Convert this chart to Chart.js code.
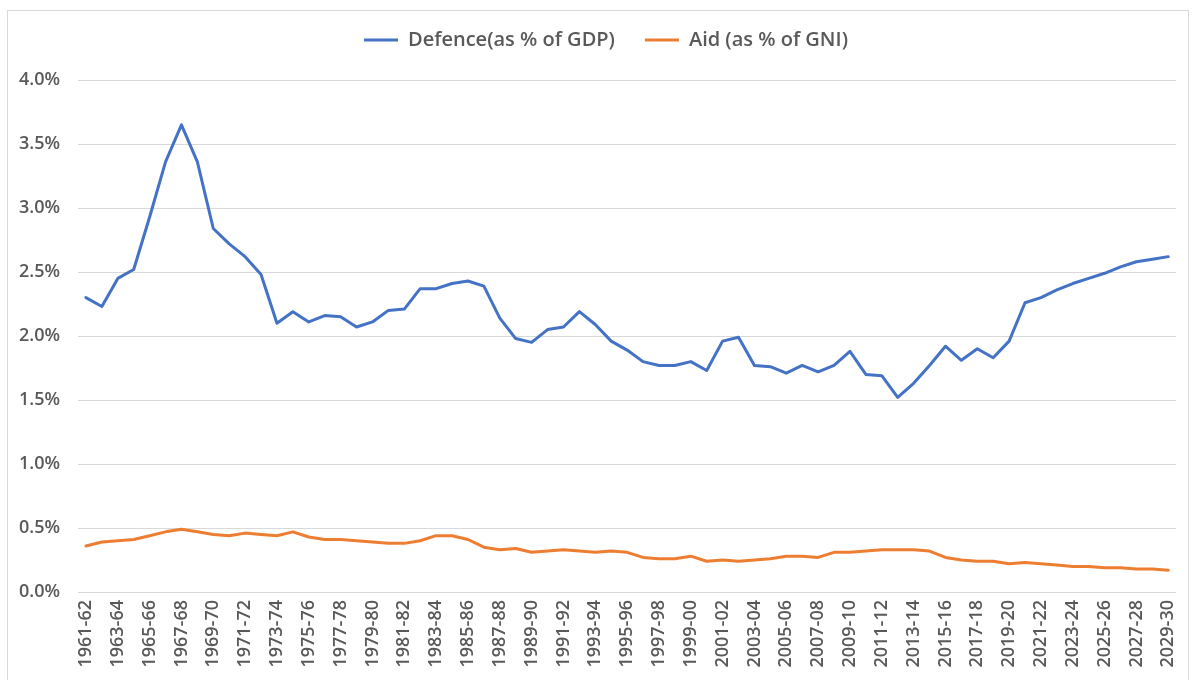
<!DOCTYPE html>
<html lang="en">
<head>
<meta charset="UTF-8">
<title>Defence and Aid spending</title>
<style>
  html, body { margin: 0; padding: 0; background: #fff; }
  .frame { position: relative; width: 1198px; height: 680px; overflow: hidden; }
  .frame .edge { position: absolute; left: 7px; top: 10px; width: 1182px; height: 700px; border: 1px solid #d9d9d9; box-sizing: border-box; }
  canvas { position: absolute; left: 0; top: 0; }
</style>
</head>
<body>
<div class="frame">
  <div class="edge"></div>
  <canvas id="chart" width="1198" height="680"></canvas>
</div>
<script src="https://cdn.jsdelivr.net/npm/chart.js@4.4.9/dist/chart.umd.min.js"></script>
<script>
// financial years on the category axis
const years = [
  '1961-62', '1962-63', '1963-64', '1964-65', '1965-66', '1966-67', '1967-68', '1968-69', '1969-70', '1970-71',
  '1971-72', '1972-73', '1973-74', '1974-75', '1975-76', '1976-77', '1977-78', '1978-79', '1979-80', '1980-81',
  '1981-82', '1982-83', '1983-84', '1984-85', '1985-86', '1986-87', '1987-88', '1988-89', '1989-90', '1990-91',
  '1991-92', '1992-93', '1993-94', '1994-95', '1995-96', '1996-97', '1997-98', '1998-99', '1999-00', '2000-01',
  '2001-02', '2002-03', '2003-04', '2004-05', '2005-06', '2006-07', '2007-08', '2008-09', '2009-10', '2010-11',
  '2011-12', '2012-13', '2013-14', '2014-15', '2015-16', '2016-17', '2017-18', '2018-19', '2019-20', '2020-21',
  '2021-22', '2022-23', '2023-24', '2024-25', '2025-26', '2026-27', '2027-28', '2028-29', '2029-30'
];

// defence spending, % of GDP
const defence = [
  2.30, 2.23, 2.45, 2.52, 2.93, 3.36, 3.65, 3.36, 2.84, 2.72,
  2.62, 2.48, 2.10, 2.19, 2.11, 2.16, 2.15, 2.07, 2.11, 2.20,
  2.21, 2.37, 2.37, 2.41, 2.43, 2.39, 2.14, 1.98, 1.95, 2.05,
  2.07, 2.19, 2.09, 1.96, 1.89, 1.80, 1.77, 1.77, 1.80, 1.73,
  1.96, 1.99, 1.77, 1.76, 1.71, 1.77, 1.72, 1.77, 1.88, 1.70,
  1.69, 1.52, 1.63, 1.77, 1.92, 1.81, 1.90, 1.83, 1.96, 2.26,
  2.30, 2.36, 2.41, 2.45, 2.49, 2.54, 2.58, 2.60, 2.62
];

// overseas aid, % of GNI
const aid = [
  0.36, 0.39, 0.40, 0.41, 0.44, 0.47, 0.49, 0.47, 0.45, 0.44,
  0.46, 0.45, 0.44, 0.47, 0.43, 0.41, 0.41, 0.40, 0.39, 0.38,
  0.38, 0.40, 0.44, 0.44, 0.41, 0.35, 0.33, 0.34, 0.31, 0.32,
  0.33, 0.32, 0.31, 0.32, 0.31, 0.27, 0.26, 0.26, 0.28, 0.24,
  0.25, 0.24, 0.25, 0.26, 0.28, 0.28, 0.27, 0.31, 0.31, 0.32,
  0.33, 0.33, 0.33, 0.32, 0.27, 0.25, 0.24, 0.24, 0.22, 0.23,
  0.22, 0.21, 0.20, 0.20, 0.19, 0.19, 0.18, 0.18, 0.17
];

const yMin = 0, yMax = 4, yStep = 0.5;

Chart.defaults.font.family = "'Open Sans', sans-serif";
Chart.defaults.color = '#595959';

// extra space under the legend row, and keep the legend centred over the frame
const legendSpacing = {
  id: 'legendSpacing',
  beforeInit(chart) {
    const fit = chart.legend.fit;
    chart.legend.fit = function () {
      fit.call(this);
      this.height += 20;
    };
  },
  afterLayout(chart) {
    chart.legend.left += 32;
  }
};

new Chart(document.getElementById('chart'), {
  type: 'line',
  data: {
    labels: years,
    datasets: [
      {
        label: 'Defence(as % of GDP)',
        data: defence,
        borderColor: '#4472C4',
        backgroundColor: '#4472C4',
        borderWidth: 3,
        pointRadius: 0,
        tension: 0,
        borderJoinStyle: 'round',
        borderCapStyle: 'round'
      },
      {
        label: 'Aid (as % of GNI)',
        data: aid,
        borderColor: '#ED7D31',
        backgroundColor: '#ED7D31',
        borderWidth: 3,
        pointRadius: 0,
        tension: 0,
        borderJoinStyle: 'round',
        borderCapStyle: 'round'
      }
    ]
  },
  options: {
    responsive: false,
    animation: false,
    devicePixelRatio: 1,
    layout: { padding: { left: 0, right: 18, top: 0, bottom: 0 } },
    plugins: {
      tooltip: { enabled: false },
      legend: {
        position: 'top',
        labels: {
          usePointStyle: true,
          pointStyle: 'line',
          pointStyleWidth: 34,
          padding: 30,
          font: { size: 20, weight: '600' },
          color: '#595959'
        }
      }
    },
    scales: {
      x: {
        offset: true,
        grid: { display: false, drawTicks: false },
        border: { display: false },
        ticks: {
          autoSkip: false,
          maxRotation: 90,
          minRotation: 90,
          padding: 8,
          font: { size: 18, weight: '600' },
          callback: (v, i) => (i % 2 === 0 ? years[i] : '')
        },
        afterFit: s => { s.height = 88; }
      },
      y: {
        min: yMin,
        max: yMax,
        grid: { color: '#d9d9d9', lineWidth: 1, drawTicks: false },
        border: { display: false },
        ticks: {
          stepSize: yStep,
          padding: 18,
          font: { size: 18, weight: '600' },
          callback: v => v.toFixed(1) + '%'
        },
        afterFit: s => { s.width = 78; }
      }
    }
  },
  plugins: [legendSpacing]
});
</script>
</body>
</html>
